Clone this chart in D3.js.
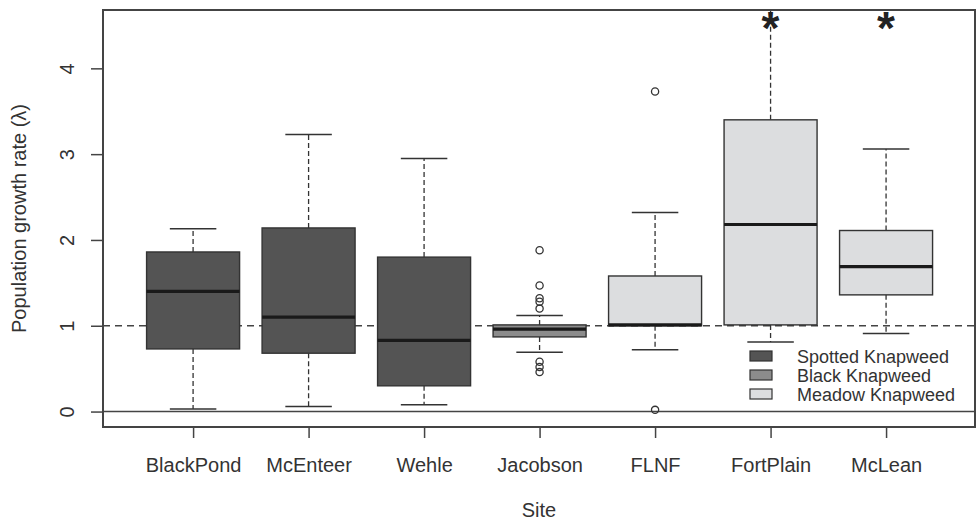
<!DOCTYPE html>
<html>
<head>
<meta charset="utf-8">
<script src="https://cdn.jsdelivr.net/npm/d3@7"></script>
<style>
  body { margin: 0; background: #fff; }
  text { font-family: "Liberation Sans", Arial, sans-serif; fill: #333; }
</style>
</head>
<body>
<div id="chart"></div>
<script>
// data
const sites = ["BlackPond", "McEnteer", "Wehle", "Jacobson", "FLNF", "FortPlain", "McLean"];
const species = ["Spotted", "Spotted", "Spotted", "Black", "Meadow", "Meadow", "Meadow"];
const lowWhisker = [0.03, 0.06, 0.08, 0.69, 0.72, 0.81, 0.91];
const q1 = [0.73, 0.68, 0.30, 0.87, 1.00, 1.01, 1.36];
const medians = [1.40, 1.10, 0.83, 0.96, 1.01, 2.18, 1.69];
const q3 = [1.86, 2.14, 1.80, 1.01, 1.58, 3.40, 2.11];
const highWhisker = [2.13, 3.23, 2.95, 1.12, 2.32, 4.90, 3.06];
const outliers = [[], [], [], [1.88, 1.47, 1.32, 1.28, 1.20, 0.58, 0.52, 0.46], [3.73, 0.02], [], []];
const starred = ["FortPlain", "McLean"];
const yTicks = [0, 1, 2, 3, 4];
const legendLabels = ["Spotted Knapweed", "Black Knapweed", "Meadow Knapweed"];
const legendKeys = ["Spotted", "Black", "Meadow"];

const width = 979, height = 523;
const plot = {left: 103, right: 975, top: 10, bottom: 427};

const svg = d3.select("#chart").append("svg")
  .attr("width", width)
  .attr("height", height);

const x = d3.scaleLinear()
  .domain([0.22, 7.77])
  .range([plot.left, plot.right]);

const y = d3.scaleLinear()
  .domain([-0.18, 4.68])
  .range([plot.bottom, plot.top]);

const fill = d3.scaleOrdinal()
  .domain(["Spotted", "Black", "Meadow"])
  .range(["#545454", "#8c8c8c", "#dcdddf"]);

const boxHalf = 46.5;

svg.append("clipPath").attr("id", "clip")
  .append("rect")
    .attr("x", plot.left).attr("y", plot.top)
    .attr("width", plot.right - plot.left).attr("height", plot.bottom - plot.top);

const g = svg.append("g").attr("clip-path", "url(#clip)");

// reference lines at 0 and 1
g.append("line")
  .attr("x1", plot.left).attr("x2", plot.right)
  .attr("y1", y(0)).attr("y2", y(0))
  .attr("stroke", "#444").attr("stroke-width", 1.5);
g.append("line")
  .attr("x1", plot.left).attr("x2", plot.right)
  .attr("y1", y(1)).attr("y2", y(1))
  .attr("stroke", "#444").attr("stroke-width", 1.5)
  .attr("stroke-dasharray", "7,5");

const boxes = g.selectAll(".box")
  .data(sites)
  .enter().append("g")
    .attr("class", "box");

// whiskers (dashed)
boxes.append("line")
  .attr("x1", (d, i) => x(i + 1)).attr("x2", (d, i) => x(i + 1))
  .attr("y1", (d, i) => y(q3[i])).attr("y2", (d, i) => y(highWhisker[i]))
  .attr("stroke", "#333").attr("stroke-width", 1.3).attr("stroke-dasharray", "5,3");
boxes.append("line")
  .attr("x1", (d, i) => x(i + 1)).attr("x2", (d, i) => x(i + 1))
  .attr("y1", (d, i) => y(q1[i])).attr("y2", (d, i) => y(lowWhisker[i]))
  .attr("stroke", "#333").attr("stroke-width", 1.3).attr("stroke-dasharray", "5,3");

// whisker caps
boxes.append("line")
  .attr("x1", (d, i) => x(i + 1) - boxHalf / 2).attr("x2", (d, i) => x(i + 1) + boxHalf / 2)
  .attr("y1", (d, i) => y(highWhisker[i])).attr("y2", (d, i) => y(highWhisker[i]))
  .attr("stroke", "#333").attr("stroke-width", 1.5);
boxes.append("line")
  .attr("x1", (d, i) => x(i + 1) - boxHalf / 2).attr("x2", (d, i) => x(i + 1) + boxHalf / 2)
  .attr("y1", (d, i) => y(lowWhisker[i])).attr("y2", (d, i) => y(lowWhisker[i]))
  .attr("stroke", "#333").attr("stroke-width", 1.5);

// boxes
boxes.append("rect")
  .attr("x", (d, i) => x(i + 1) - boxHalf)
  .attr("width", boxHalf * 2)
  .attr("y", (d, i) => y(q3[i]))
  .attr("height", (d, i) => y(q1[i]) - y(q3[i]))
  .attr("fill", (d, i) => fill(species[i]))
  .attr("stroke", "#333").attr("stroke-width", 1.4);

// medians
boxes.append("line")
  .attr("x1", (d, i) => x(i + 1) - boxHalf).attr("x2", (d, i) => x(i + 1) + boxHalf)
  .attr("y1", (d, i) => y(medians[i])).attr("y2", (d, i) => y(medians[i]))
  .attr("stroke", "#1a1a1a").attr("stroke-width", 3.2);

// outliers
boxes.each(function (d, i) {
  d3.select(this).selectAll("circle")
    .data(outliers[i])
    .enter().append("circle")
      .attr("cx", x(i + 1))
      .attr("cy", v => y(v))
      .attr("r", 3.6)
      .attr("fill", "none")
      .attr("stroke", "#333").attr("stroke-width", 1.3);
});

// significance stars
svg.selectAll(".star")
  .data(starred)
  .enter().append("text")
    .attr("class", "star")
    .attr("x", d => x(sites.indexOf(d) + 1))
    .attr("y", 44)
    .attr("text-anchor", "middle")
    .style("font-size", "46px")
    .style("font-weight", "bold")
    .style("fill", "#222")
    .text("*");

// frame
svg.append("rect")
  .attr("x", plot.left).attr("y", plot.top)
  .attr("width", plot.right - plot.left).attr("height", plot.bottom - plot.top)
  .attr("fill", "none").attr("stroke", "#444").attr("stroke-width", 2);

// y axis
const yAxis = svg.append("g")
  .attr("transform", "translate(" + plot.left + ",0)")
  .call(d3.axisLeft(y).tickValues(yTicks).tickSize(12).tickFormat(d3.format("d")));
yAxis.select(".domain").remove();
yAxis.selectAll(".tick line").attr("stroke", "#444").attr("stroke-width", 1.5);
yAxis.selectAll(".tick text")
  .attr("x", 0).attr("dy", null)
  .attr("transform", "translate(-29,0) rotate(-90)")
  .attr("text-anchor", "middle")
  .attr("fill", "#333")
  .style("font-size", "20px")
  .style("font-family", "Liberation Sans, Arial, sans-serif");

// x axis
const xAxis = svg.append("g")
  .attr("transform", "translate(0," + plot.bottom + ")")
  .call(d3.axisBottom(x).tickValues(d3.range(1, sites.length + 1)).tickSize(11)
    .tickFormat(d => sites[d - 1]));
xAxis.select(".domain").remove();
xAxis.selectAll(".tick line").attr("stroke", "#444").attr("stroke-width", 1.5);
xAxis.selectAll(".tick text")
  .attr("y", 45).attr("dy", null)
  .attr("fill", "#333")
  .style("font-size", "20px")
  .style("font-family", "Liberation Sans, Arial, sans-serif");

// axis titles
svg.append("text")
  .attr("text-anchor", "middle")
  .attr("x", (plot.left + plot.right) / 2)
  .attr("y", 517)
  .style("font-size", "20px")
  .text("Site");

svg.append("text")
  .attr("text-anchor", "middle")
  .attr("transform", "translate(26," + (plot.top + plot.bottom) / 2 + ") rotate(-90)")
  .style("font-size", "20px")
  .text("Population growth rate (\u03BB)");

// legend
const legend = svg.selectAll(".legend")
  .data(legendLabels)
  .enter().append("g")
    .attr("class", "legend")
    .attr("transform", (d, i) => "translate(750," + (351 + i * 19) + ")");
legend.append("rect")
  .attr("width", 22).attr("height", 10)
  .attr("fill", (d, i) => fill(legendKeys[i]))
  .attr("stroke", "#333").attr("stroke-width", 1.2);
legend.append("text")
  .attr("x", 47).attr("y", 11.5)
  .style("font-size", "18px")
  .text(d => d);
</script>
</body>
</html>
